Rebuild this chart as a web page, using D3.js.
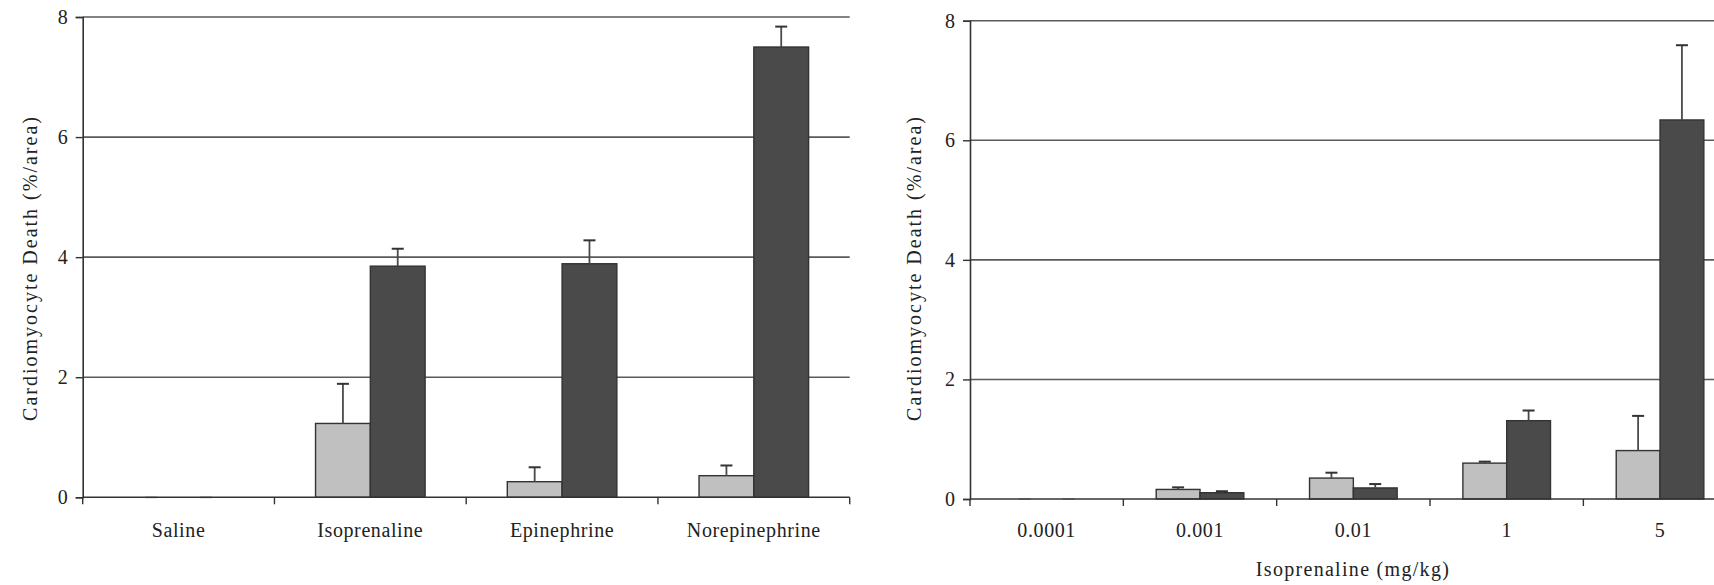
<!DOCTYPE html>
<html>
<head>
<meta charset="utf-8">
<script src="https://cdn.jsdelivr.net/npm/d3@7"></script>
<style>
  html, body { margin: 0; padding: 0; background: #fff; }
  svg { display: block; }
  text { font-family: "Liberation Serif", "DejaVu Serif", serif; fill: #222; }
</style>
</head>
<body>
<svg id="chart" width="1714" height="585"></svg>
<script>
const SERIES = ["light", "dark"];
const SERIES_FILL = { light: "#c0c0c0", dark: "#4a4a4a" };

// left panel: agonists
const AGONISTS = ["Saline", "Isoprenaline", "Epinephrine", "Norepinephrine"];
const AGONIST_LIGHT = [0, 1.23, 0.26, 0.36];
const AGONIST_LIGHT_ERR = [0, 0.66, 0.24, 0.17];
const AGONIST_DARK = [0, 3.85, 3.89, 7.5];
const AGONIST_DARK_ERR = [0, 0.29, 0.39, 0.34];

// right panel: isoprenaline doses
const DOSES = ["0.0001", "0.001", "0.01", "1", "5"];
const DOSE_LIGHT = [0, 0.16, 0.35, 0.6, 0.81];
const DOSE_LIGHT_ERR = [0, 0.035, 0.09, 0.025, 0.58];
const DOSE_DARK = [0, 0.105, 0.185, 1.31, 6.34];
const DOSE_DARK_ERR = [0, 0.025, 0.065, 0.17, 1.25];

const Y_TICKS = [0, 2, 4, 6, 8];
const Y_TITLE = "Cardiomyocyte Death (%/area)";
const X_TITLE_RIGHT = "Isoprenaline (mg/kg)";

const svg = d3.select("#chart");

function buildRows(cats, light, lightErr, dark, darkErr) {
  return cats.map((c, i) => ({
    cat: c,
    values: [
      { key: "light", v: light[i], e: lightErr[i] },
      { key: "dark", v: dark[i], e: darkErr[i] },
    ],
  }));
}

function drawPanel(opts) {
  const { rows, x0, x1, yTop, yBottom, titleX, xTitle } = opts;
  const g = svg.append("g");

  const x = d3.scaleBand().domain(rows.map((r) => r.cat)).range([x0, x1]).padding(0);
  const xs = d3.scaleBand().domain(SERIES).range([0, x.bandwidth()]).paddingInner(0).paddingOuter(0.75);
  const y = d3.scaleLinear().domain([0, 8]).range([yBottom, yTop]);

  // gridlines
  g.append("g")
    .selectAll("line")
    .data(Y_TICKS.filter((t) => t > 0))
    .join("line")
    .attr("x1", x0)
    .attr("x2", x1)
    .attr("y1", (d) => y(d))
    .attr("y2", (d) => y(d))
    .attr("stroke", "#5a5a5a")
    .attr("stroke-width", 1.6);

  // y axis
  const yAxis = g.append("g")
    .attr("transform", `translate(${x0},0)`)
    .call(d3.axisLeft(y).tickValues(Y_TICKS).tickSize(7).tickPadding(8).tickFormat(d3.format("d")));
  yAxis.select(".domain").attr("stroke", "#333").attr("stroke-width", 1.6);
  yAxis.selectAll(".tick line").attr("stroke", "#333").attr("stroke-width", 1.4);
  yAxis.selectAll(".tick text")
    .attr("font-family", "Liberation Serif, serif")
    .attr("font-size", 20)
    .attr("fill", "#222");

  // bars
  const groups = g.append("g")
    .selectAll("g")
    .data(rows)
    .join("g")
    .attr("transform", (r) => `translate(${x(r.cat)},0)`);

  groups.selectAll("rect")
    .data((r) => r.values)
    .join("rect")
    .attr("x", (d) => xs(d.key))
    .attr("width", xs.bandwidth())
    .attr("y", (d) => y(d.v))
    .attr("height", (d) => y(0) - y(d.v))
    .attr("fill", (d) => SERIES_FILL[d.key])
    .attr("stroke", (d) => (d.v > 0 ? "#333" : "none"))
    .attr("stroke-width", 1.4);

  // error bars (upper only)
  const err = groups.selectAll("g.err")
    .data((r) => r.values)
    .join("g")
    .attr("class", "err")
    .attr("transform", (d) => `translate(${xs(d.key) + xs.bandwidth() / 2},0)`);
  err.append("line")
    .attr("y1", (d) => y(d.v))
    .attr("y2", (d) => y(d.v + d.e))
    .attr("stroke", "#4a4a4a")
    .attr("stroke-width", 1.8);
  err.append("line")
    .attr("x1", -6)
    .attr("x2", 6)
    .attr("y1", (d) => y(d.v + d.e))
    .attr("y2", (d) => y(d.v + d.e))
    .attr("stroke", (d) => (d.v > 0 ? "#333" : "#bbb"))
    .attr("stroke-width", 2);

  // x axis
  const bounds = rows.map((r) => x(r.cat)).concat([x1]);
  g.append("line")
    .attr("x1", x0)
    .attr("x2", x1)
    .attr("y1", y(0))
    .attr("y2", y(0))
    .attr("stroke", "#333")
    .attr("stroke-width", 1.6);
  g.append("g")
    .selectAll("line")
    .data(bounds)
    .join("line")
    .attr("x1", (d) => d)
    .attr("x2", (d) => d)
    .attr("y1", y(0))
    .attr("y2", y(0) + 7)
    .attr("stroke", "#333")
    .attr("stroke-width", 1.4);

  g.append("g")
    .selectAll("text")
    .data(rows)
    .join("text")
    .attr("x", (r) => x(r.cat) + x.bandwidth() / 2)
    .attr("y", 537)
    .attr("text-anchor", "middle")
    .attr("font-size", 20)
    .attr("letter-spacing", 0.6)
    .text((r) => r.cat);

  // y title
  g.append("text")
    .attr("transform", `translate(${titleX},268) rotate(-90)`)
    .attr("text-anchor", "middle")
    .attr("dominant-baseline", "central")
    .attr("font-size", 20)
    .attr("letter-spacing", 2)
    .text(Y_TITLE);

  if (xTitle) {
    g.append("text")
      .attr("x", xTitle.x)
      .attr("y", 576)
      .attr("text-anchor", "middle")
      .attr("font-size", 20)
      .attr("letter-spacing", 1.3)
      .text(xTitle.text);
  }
}

drawPanel({
  rows: buildRows(AGONISTS, AGONIST_LIGHT, AGONIST_LIGHT_ERR, AGONIST_DARK, AGONIST_DARK_ERR),
  x0: 82.7, x1: 849.7, yTop: 17, yBottom: 497.3, titleX: 30,
});

drawPanel({
  rows: buildRows(DOSES, DOSE_LIGHT, DOSE_LIGHT_ERR, DOSE_DARK, DOSE_DARK_ERR),
  x0: 970, x1: 1736.7, yTop: 20.7, yBottom: 499, titleX: 914,
  xTitle: { x: 1353, text: X_TITLE_RIGHT },
});
</script>
</body>
</html>
